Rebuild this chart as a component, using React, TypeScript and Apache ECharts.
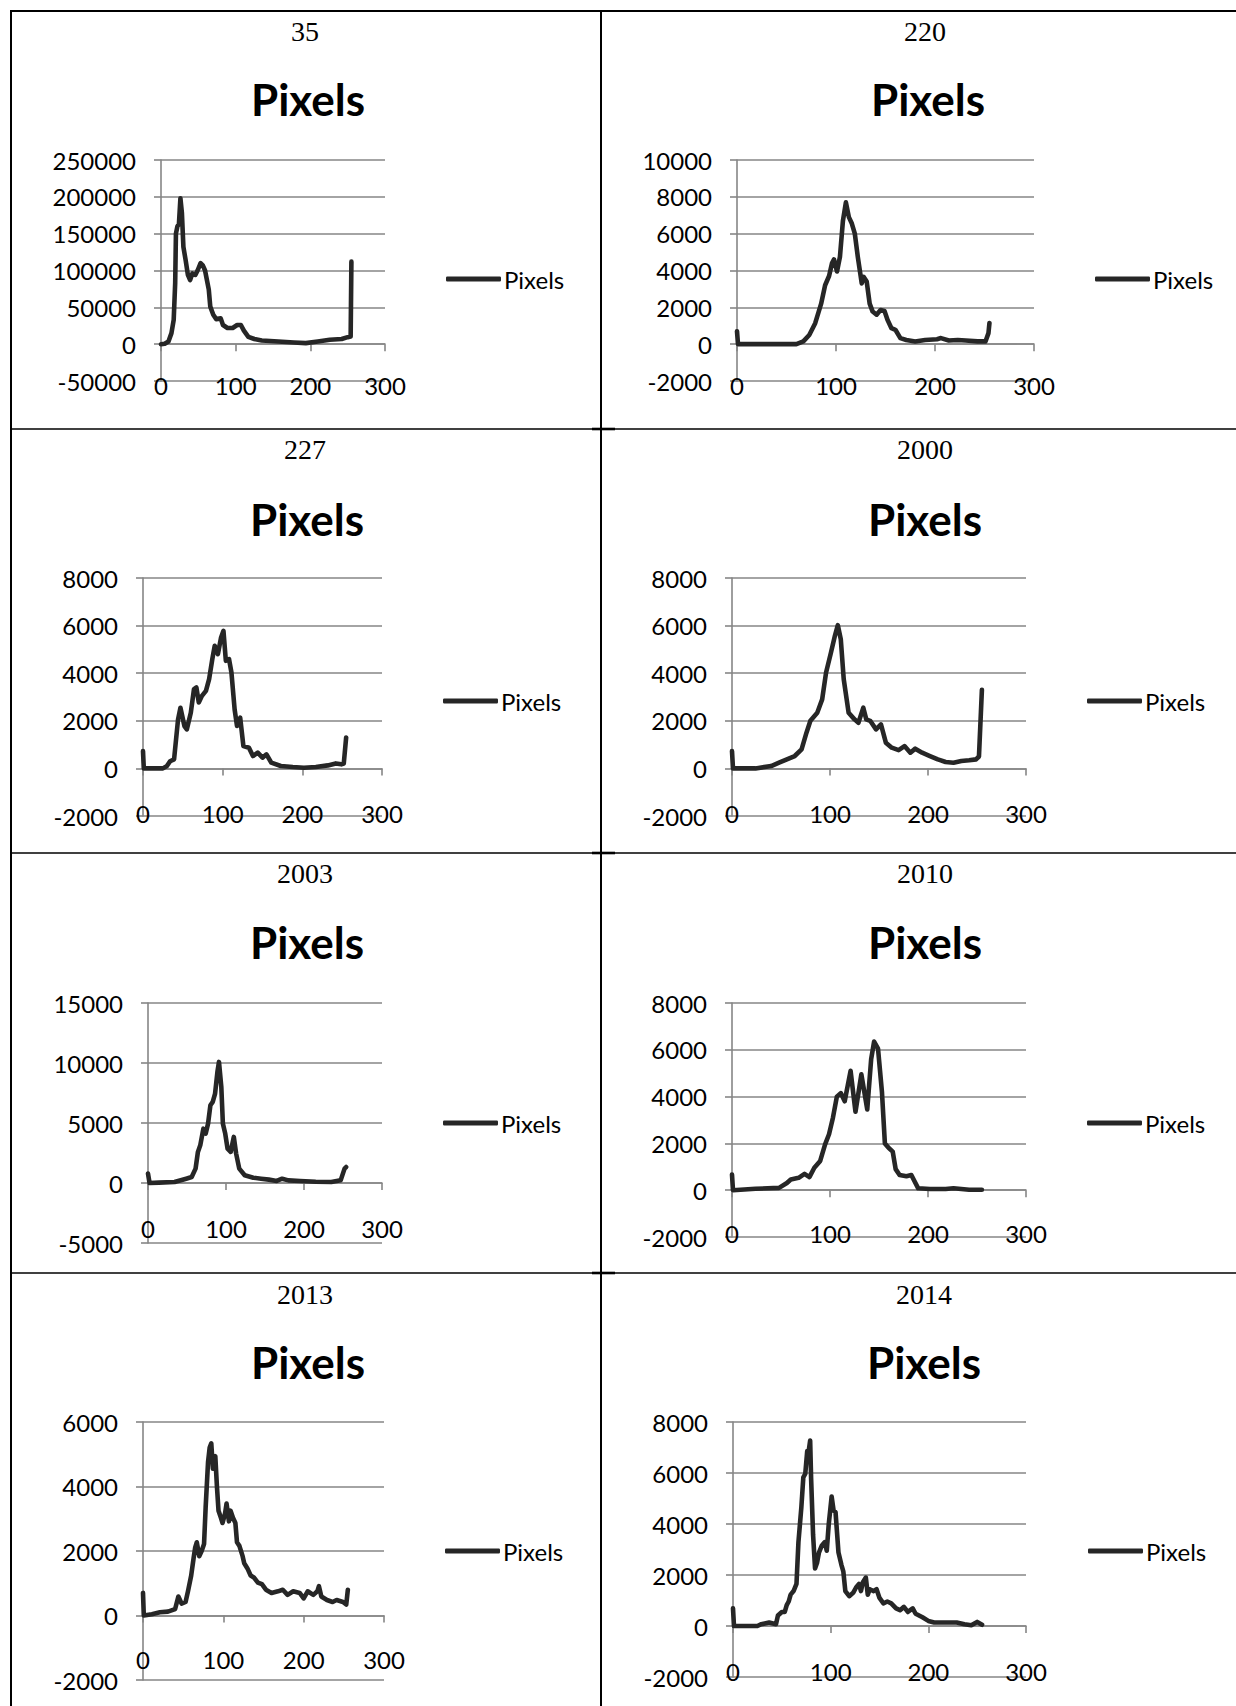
import React, { useEffect, useRef } from 'react';
import * as echarts from 'echarts';

// ---------- data ----------
const CHART_NAMES = ['35', '220', '227', '2000', '2003', '2010', '2013', '2014'];
const SERIES_NAME = 'Pixels';
const Y_MIN = [-50000, -2000, -2000, -2000, -5000, -2000, -2000, -2000];
const Y_MAX = [250000, 10000, 8000, 8000, 15000, 8000, 6000, 8000];
const Y_STEP = [50000, 2000, 2000, 2000, 5000, 2000, 2000, 2000];
const X_MIN = 0;
const X_MAX = 300;
const X_STEP = 100;

const pixels35 = [[0,0],[5,500],[10,3600],[14,15000],[17,33000],[19,83000],[20,150000],[22,160000],[24,163000],[26,198000],[28,178000],[30,132000],[33,114000],[36,94000],[39,87000],[42,96000],[46,94000],[49,100000],[53,110000],[56,107000],[59,100000],[64,74000],[66,51000],[70,40000],[74,34000],[80,35000],[83,26000],[89,22000],[96,22000],[102,26000],[107,26000],[111,18500],[117,10000],[125,7000],[135,5000],[157,3600],[178,2300],[194,1400],[210,3600],[226,6000],[242,7000],[250,9500],[254,10500],[255,112000]];
const pixels220 = [[0,700],[1,0],[60,0],[67,150],[73,500],[79,1140],[85,2200],[89,3200],[93,3700],[96,4400],[98,4600],[101,3950],[104,4750],[107,6700],[110,7700],[113,6900],[116,6550],[119,6000],[122,4750],[126,3300],[128,3650],[131,3400],[134,2200],[137,1770],[141,1600],[145,1850],[149,1800],[152,1320],[156,870],[160,780],[165,330],[171,230],[180,150],[190,230],[202,270],[206,330],[214,200],[223,230],[231,200],[243,150],[251,150],[254,600],[255,1150]];
const pixels227 = [[0,730],[1,0],[25,0],[30,100],[34,300],[39,380],[44,2060],[47,2550],[52,1780],[55,1640],[60,2340],[64,3330],[67,3400],[70,2770],[74,3050],[79,3260],[83,3750],[87,4590],[90,5150],[94,4800],[98,5500],[101,5780],[104,4520],[108,4590],[111,4030],[115,2480],[118,1780],[122,2130],[126,940],[133,870],[138,520],[144,660],[150,450],[155,590],[161,240],[173,100],[188,56],[202,28],[217,56],[232,126],[242,210],[249,170],[252,200],[255,1300]];
const pixels2000 = [[0,730],[1,0],[24,0],[40,100],[48,240],[56,380],[64,520],[71,800],[76,1500],[80,2000],[87,2340],[92,2900],[96,4030],[101,4870],[105,5570],[108,6020],[111,5430],[114,3750],[119,2340],[125,2060],[129,1920],[134,2550],[137,2060],[141,2000],[147,1640],[152,1850],[157,1080],[163,870],[170,770],[176,940],[182,660],[187,830],[194,660],[202,520],[210,380],[218,270],[226,240],[234,310],[242,340],[249,380],[252,500],[255,3300]];
const pixels2003 = [[0,780],[2,0],[14,30],[34,80],[49,360],[56,500],[61,1200],[64,2590],[67,3140],[71,4530],[74,4120],[77,4950],[80,6480],[83,6760],[86,7450],[89,9260],[91,10090],[94,8000],[96,4950],[99,4120],[102,2860],[106,2590],[110,3840],[113,2450],[117,1200],[124,640],[135,440],[145,360],[155,280],[165,170],[172,360],[180,220],[195,170],[215,110],[235,80],[247,220],[252,1200],[254,1330]];
const pixels2010 = [[0,670],[1,0],[24,60],[48,100],[56,310],[60,460],[68,530],[74,700],[79,560],[84,960],[90,1250],[95,1960],[99,2390],[103,3100],[107,4000],[111,4150],[115,3800],[121,5100],[126,3350],[132,4950],[138,3450],[142,5600],[145,6350],[149,6050],[153,4200],[156,2000],[160,1800],[164,1650],[167,900],[171,650],[178,600],[183,650],[186,400],[190,80],[202,50],[218,50],[226,80],[242,20],[255,20]];
const pixels2013 = [[0,700],[1,0],[11,40],[21,100],[31,120],[40,200],[44,590],[48,370],[53,420],[56,750],[60,1240],[63,1780],[65,2110],[67,2270],[70,1840],[73,2000],[76,2220],[78,3360],[81,4770],[83,5210],[85,5340],[87,4550],[90,4940],[92,4010],[94,3250],[97,3030],[99,2870],[102,3140],[104,3470],[107,2920],[109,3250],[112,3030],[115,2870],[117,2270],[120,2160],[124,1840],[126,1620],[130,1460],[134,1240],[138,1180],[143,1020],[148,970],[153,800],[160,700],[168,750],[174,800],[180,640],[187,750],[195,700],[200,530],[205,750],[212,640],[217,750],[219,910],[222,590],[229,480],[236,420],[241,480],[249,420],[253,340],[255,800]];
const pixels2014 = [[0,690],[1,0],[25,0],[29,70],[37,140],[44,70],[46,410],[50,550],[53,550],[55,820],[57,960],[59,1230],[62,1370],[65,1650],[67,3290],[70,4660],[72,5830],[74,5970],[76,6860],[77,6720],[79,7270],[80,5760],[82,3570],[84,2260],[86,2470],[88,2880],[91,3160],[94,3290],[96,2950],[98,3980],[101,5080],[103,4530],[105,4460],[108,2880],[111,2400],[113,2130],[115,1370],[119,1170],[123,1300],[126,1510],[129,1650],[131,1370],[133,1720],[136,1900],[138,1230],[140,1440],[144,1370],[147,1440],[150,1100],[154,890],[158,960],[162,890],[167,690],[171,620],[175,750],[179,550],[184,690],[187,480],[194,340],[200,200],[206,140],[217,140],[229,140],[237,70],[244,30],[250,160],[255,50]];

const SERIES_DATA = [pixels35, pixels220, pixels227, pixels2000, pixels2003, pixels2010, pixels2013, pixels2014];

// ---------- layout (page px) ----------
const LAYOUT = [
  { gl: 161, gr: 385, gt: 160, gb: 381, num: [305, 31], title: [308, 99], leg: [446, 279], lab: 4 },
  { gl: 737, gr: 1034, gt: 160, gb: 381, num: [925, 31], title: [928, 99], leg: [1095, 279], lab: 4 },
  { gl: 143, gr: 382, gt: 578, gb: 816, num: [305, 449], title: [307, 519], leg: [443, 701], lab: -3 },
  { gl: 732, gr: 1026, gt: 578, gb: 816, num: [925, 449], title: [925, 519], leg: [1087, 701], lab: -3 },
  { gl: 148, gr: 382, gt: 1003, gb: 1243, num: [305, 873], title: [307, 942], leg: [443, 1123], lab: -15 },
  { gl: 732, gr: 1026, gt: 1003, gb: 1237, num: [925, 873], title: [925, 942], leg: [1087, 1123], lab: -4 },
  { gl: 143, gr: 384, gt: 1422, gb: 1680, num: [305, 1294], title: [308, 1362], leg: [445, 1551], lab: -21 },
  { gl: 733, gr: 1026, gt: 1422, gb: 1677, num: [924, 1294], title: [924, 1362], leg: [1088, 1551], lab: -6 },
];

const PAGE_W = 1236;
const PAGE_H = 1706;
const ROW_LINES = [429, 853, 1273];
const COL_LINES = [11, 601];
const TOP_LINE = 11;

const GRID_COLOR = '#868686';
const LINE_COLOR = '#262626';
const SANS = 'Lato, "Noto Sans", sans-serif';
const SERIF = '"Liberation Serif", "DejaVu Serif", serif';

function buildOption() {
  const grid: any[] = [];
  const xAxis: any[] = [];
  const yAxis: any[] = [];
  const series: any[] = [];
  const title: any[] = [];
  const legend: any[] = [];

  LAYOUT.forEach((L, i) => {
    grid.push({ left: L.gl, top: L.gt, width: L.gr - L.gl, height: L.gb - L.gt, containLabel: false });
    // labels axis (at bottom)
    xAxis.push({
      type: 'value', gridIndex: i, min: X_MIN, max: X_MAX, interval: X_STEP, position: 'bottom',
      axisLine: { show: false, onZero: false },
      axisTick: { show: false },
      splitLine: { show: false },
      axisLabel: {
        show: true, margin: L.lab, verticalAlign: 'middle', color: '#000', fontSize: 24, fontFamily: SANS,
        formatter: (v: number) => String(v),
      },
    });
    // axis line sitting on zero, with ticks
    xAxis.push({
      type: 'value', gridIndex: i, min: X_MIN, max: X_MAX, interval: X_STEP, position: 'bottom',
      axisLine: { show: true, onZero: true, lineStyle: { color: GRID_COLOR, width: 1.6 } },
      axisTick: { show: true, length: 7, lineStyle: { color: GRID_COLOR, width: 1.6 } },
      splitLine: { show: false },
      axisLabel: { show: false },
    });
    yAxis.push({
      type: 'value', gridIndex: i, min: Y_MIN[i], max: Y_MAX[i], interval: Y_STEP[i],
      axisLine: { show: true, onZero: false, lineStyle: { color: GRID_COLOR, width: 1.6 } },
      axisTick: { show: true, length: 7, lineStyle: { color: GRID_COLOR, width: 1.6 } },
      splitLine: { show: true, lineStyle: { color: GRID_COLOR, width: 1.6 } },
      axisLabel: {
        margin: 25, color: '#000', fontSize: 24, fontFamily: SANS,
        formatter: (v: number) => String(v),
      },
    });
    series.push({
      type: 'line', name: SERIES_NAME, xAxisIndex: i * 2, yAxisIndex: i,
      data: SERIES_DATA[i], symbol: 'none', showSymbol: false,
      color: LINE_COLOR,
      itemStyle: { color: LINE_COLOR },
      lineStyle: { color: LINE_COLOR, width: 4.6, join: 'round', cap: 'round' },
      clip: false,
    });
    title.push({
      text: CHART_NAMES[i], left: L.num[0], top: L.num[1], textAlign: 'center', textVerticalAlign: 'middle', padding: 0,
      textStyle: { fontFamily: SERIF, fontWeight: 'normal', fontSize: 28, color: '#000' },
    });
    title.push({
      text: SERIES_NAME, left: L.title[0], top: L.title[1], textAlign: 'center', textVerticalAlign: 'middle', padding: 0,
      textStyle: { fontFamily: SANS, fontWeight: 'bold', fontSize: 44, color: '#000' },
    });
    legend.push({
      data: [SERIES_NAME], left: L.leg[0], top: L.leg[1] - 13, padding: 0, orient: 'vertical',
      icon: 'roundRect', itemWidth: 55, itemHeight: 5,
      itemStyle: { color: LINE_COLOR, borderWidth: 0 },
      textStyle: { fontFamily: SANS, fontSize: 24, color: '#000', lineHeight: 26, padding: [0, 0, 0, -2] },
      selectedMode: false,
    });
  });

  const lineEl = (x1: number, y1: number, x2: number, y2: number, w: number) => ({
    type: 'line', silent: true, shape: { x1, y1, x2, y2 }, style: { stroke: '#000', lineWidth: w },
  });
  const graphic: any[] = [
    lineEl(COL_LINES[0] - 1, TOP_LINE, PAGE_W, TOP_LINE, 2),
    ...COL_LINES.map((x) => lineEl(x, TOP_LINE, x, PAGE_H, 2)),
    ...ROW_LINES.map((y) => lineEl(COL_LINES[0], y, PAGE_W, y, 1.4)),
    ...ROW_LINES.map((y) => lineEl(COL_LINES[1] - 9, y, COL_LINES[1] + 14, y, 2.6)),
  ];

  return {
    animation: false,
    backgroundColor: '#fff',
    grid, xAxis, yAxis, series, title, legend, graphic,
  };
}

export default function App() {
  const ref = useRef<HTMLDivElement>(null);
  useEffect(() => {
    document.body.style.margin = '0';
    const chart = echarts.init(ref.current as HTMLDivElement, null, { renderer: 'svg', width: PAGE_W, height: PAGE_H });
    chart.setOption(buildOption() as any);
    return () => chart.dispose();
  }, []);
  return <div ref={ref} style={{ width: PAGE_W, height: PAGE_H }} />;
}
